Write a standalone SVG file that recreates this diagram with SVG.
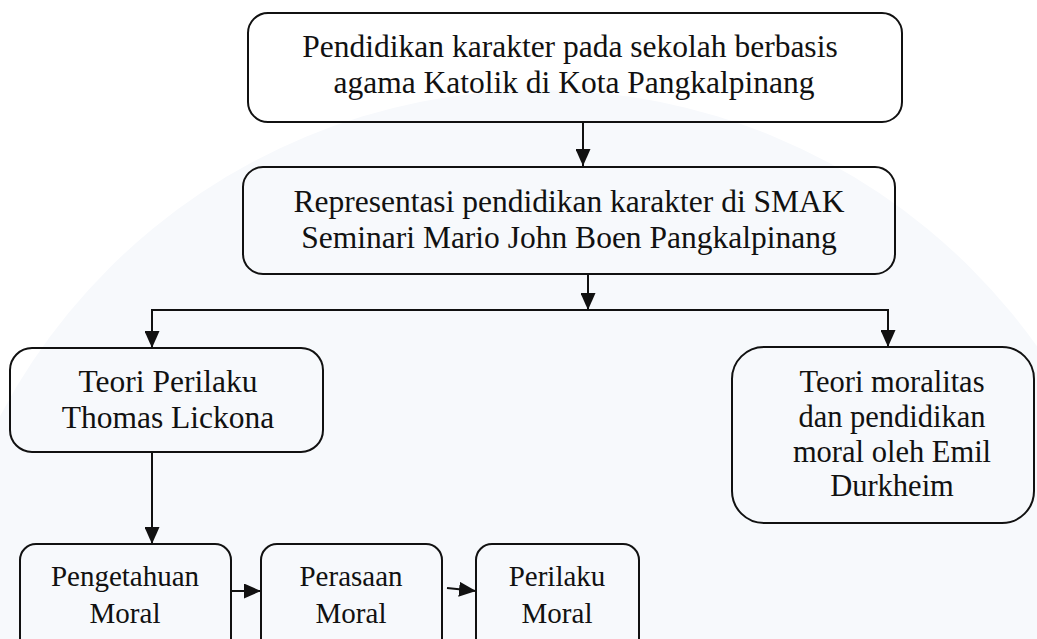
<svg xmlns="http://www.w3.org/2000/svg" width="1037" height="639" viewBox="0 0 1037 639">
<style>
.box{fill:none;stroke:#111;stroke-width:2}
.t{font-family:"Liberation Serif","Times New Roman",serif;fill:#111;text-anchor:middle}
.l{font-size:31.5px}
.m{font-size:30.5px}
.s{font-size:29px}
.c{stroke:#111;stroke-width:2;fill:none}
</style>
<defs>
<marker id="ah" markerUnits="userSpaceOnUse" markerWidth="17" markerHeight="15" refX="17" refY="7.5" orient="auto">
<path d="M0,0 L17,7.5 L0,15 z" fill="#111"/>
</marker>
</defs>
<rect width="1037" height="639" fill="#fff"/>
<circle cx="540" cy="700" r="610" fill="#f7f9fc"/>
<g id="connectors">
<line class="c" x1="583" y1="122" x2="583" y2="166" marker-end="url(#ah)"/>
<line class="c" x1="588" y1="274" x2="588" y2="310" marker-end="url(#ah)"/>
<polyline class="c" points="152,330 152,310 888,310 888,330"/>
<line class="c" x1="152" y1="320" x2="152" y2="348" marker-end="url(#ah)"/>
<line class="c" x1="888" y1="320" x2="888" y2="347" marker-end="url(#ah)"/>
<line class="c" x1="152" y1="452" x2="152" y2="544" marker-end="url(#ah)"/>
<line class="c" x1="232" y1="591" x2="261" y2="591" marker-end="url(#ah)"/>
<line class="c" x1="447" y1="588" x2="476" y2="591" marker-end="url(#ah)"/>
</g>
<g id="n1">
<rect class="box" x="248" y="13" width="654" height="109" rx="20"/>
<text class="t l" x="570" y="57">Pendidikan karakter pada sekolah berbasis</text>
<text class="t l" x="574" y="93">agama Katolik di Kota Pangkalpinang</text>
</g>
<g id="n2">
<rect class="box" x="243" y="167" width="652" height="107" rx="20"/>
<text class="t l" x="569" y="212">Representasi pendidikan karakter di SMAK</text>
<text class="t l" x="569" y="248">Seminari Mario John Boen Pangkalpinang</text>
</g>
<g id="n3">
<rect class="box" x="10" y="348" width="313" height="104" rx="22"/>
<text class="t l" x="168" y="392">Teori Perilaku</text>
<text class="t l" x="168" y="428">Thomas Lickona</text>
</g>
<g id="n4">
<rect class="box" x="732" y="347" width="302" height="176" rx="32"/>
<text class="t m" x="892" y="392">Teori moralitas</text>
<text class="t m" x="892" y="427">dan pendidikan</text>
<text class="t m" x="892" y="462">moral oleh Emil</text>
<text class="t m" x="892" y="496">Durkheim</text>
</g>
<g id="n5">
<rect class="box" x="20" y="544" width="211" height="110" rx="16"/>
<text class="t s" x="125" y="586">Pengetahuan</text>
<text class="t s" x="125" y="623">Moral</text>
</g>
<g id="n6">
<rect class="box" x="261" y="544" width="181" height="110" rx="16"/>
<text class="t s" x="351" y="586">Perasaan</text>
<text class="t s" x="351" y="623">Moral</text>
</g>
<g id="n7">
<rect class="box" x="476" y="544" width="163" height="110" rx="16"/>
<text class="t s" x="557" y="586">Perilaku</text>
<text class="t s" x="557" y="623">Moral</text>
</g>
</svg>
